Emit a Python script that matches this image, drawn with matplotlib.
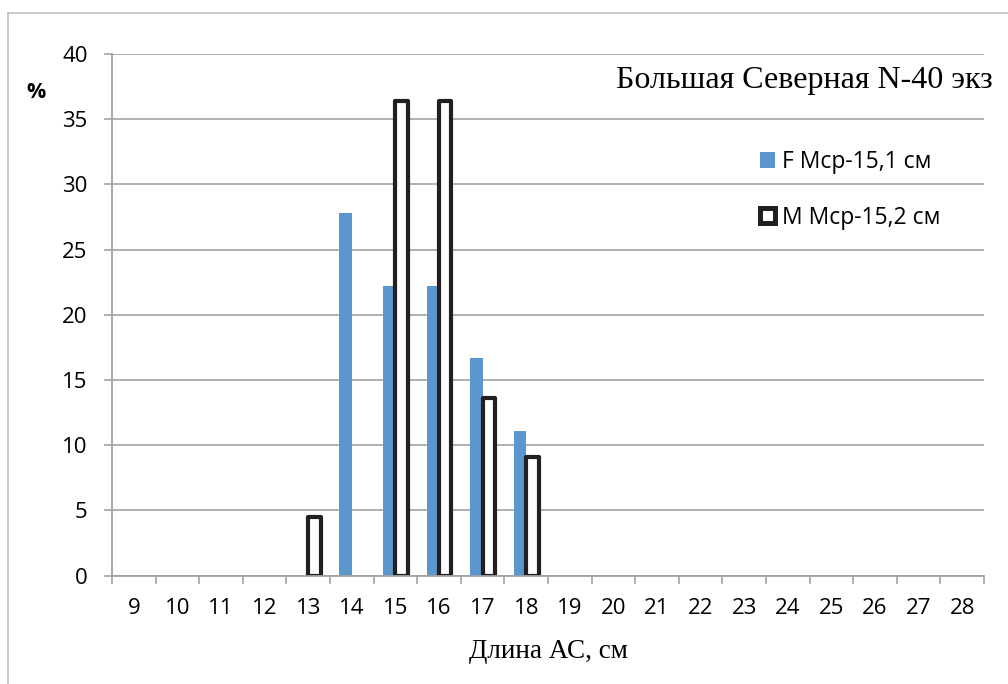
import matplotlib
matplotlib.use("Agg")
import matplotlib.pyplot as plt
from matplotlib.patches import Patch
from matplotlib.lines import Line2D
import numpy as np

# Length classes (cm) and share of specimens (%) by sex
lengths = [9, 10, 11, 12, 13, 14, 15, 16, 17, 18, 19, 20, 21, 22, 23, 24, 25, 26, 27, 28]
female_pct = [0, 0, 0, 0, 0, 27.8, 22.2, 22.2, 16.7, 11.1, 0, 0, 0, 0, 0, 0, 0, 0, 0, 0]
male_pct = [0, 0, 0, 0, 4.5, 0, 36.4, 36.4, 13.6, 9.1, 0, 0, 0, 0, 0, 0, 0, 0, 0, 0]
female_label = "F Мср-15,1 см"
male_label = "M Мср-15,2 см"
title_text = "Большая Северная N-40 экз"
x_label = "Длина АС, см"
y_label = "%"
y_ticks = [0, 5, 10, 15, 20, 25, 30, 35, 40]

W, H = 1008, 684
fig = plt.figure(figsize=(W / 100, H / 100), dpi=100)
ax = fig.add_axes([112 / W, 1 - 575.5 / H, (984 - 112) / W, (575.5 - 54) / H])

grid_col = "#a3a3a3"
blue = "#5b97cc"
dark = "#231f20"

x = np.arange(len(lengths))
bw = 0.285
nz_f = [i for i, v in enumerate(female_pct) if v > 0]
nz_m = [i for i, v in enumerate(male_pct) if v > 0]
ax.bar(x[nz_f] - bw / 2, [female_pct[i] for i in nz_f], width=bw,
       color=blue, zorder=3, linewidth=0)
ax.bar(x[nz_m] + bw / 2, [male_pct[i] for i in nz_m], width=bw,
       facecolor="white", edgecolor=dark, linewidth=3.0, zorder=4,
       joinstyle="round")

ax.set_xlim(-0.5, len(lengths) - 0.5)
ax.set_ylim(0, 40)
ax.set_yticks(y_ticks)
ax.yaxis.grid(True, color=grid_col, linewidth=1.2, zorder=0)
ax.set_axisbelow(True)

ax.set_xticks(x)
ax.set_xticklabels([str(v) for v in lengths])
ax.set_xticks(np.arange(-0.5, len(lengths)), minor=True)
ax.tick_params(axis="x", which="major", length=0, pad=16,
               labelsize=16, labelfontfamily="Open Sans")
ax.tick_params(axis="x", which="minor", length=6, width=1.2,
               color=grid_col, direction="out")
ax.tick_params(axis="y", length=6, width=1.2, color=grid_col,
               direction="out", pad=11.5, labelsize=16,
               labelfontfamily="Open Sans")

for s in ("top", "right"):
    ax.spines[s].set_visible(False)
for s in ("left", "bottom"):
    ax.spines[s].set_color(grid_col)
    ax.spines[s].set_linewidth(1.3)
ax.spines["bottom"].set_zorder(5)

ax.set_xlabel(x_label, fontfamily="Liberation Serif", fontsize=19.5,
              va="center")
ax.xaxis.set_label_coords((548 - 112) / 872, (575.5 - 651) / 521.5)
ax.set_ylabel(y_label, rotation=0, fontfamily="Open Sans", fontsize=15.5,
              fontweight="bold", va="center", ha="center")
ax.yaxis.set_label_coords((36 - 112) / 872, (575.5 - 93) / 521.5)

ax.text((804.5 - 112) / 872, (575.5 - 80.5) / 521.5, title_text,
        transform=ax.transAxes, ha="center", va="center",
        fontfamily="Liberation Serif", fontsize=23)

handles = [
    Patch(facecolor=blue, edgecolor="none", label=female_label),
    Patch(facecolor="white", edgecolor=dark, linewidth=3.6,
          joinstyle="round", label=male_label),
]
leg = ax.legend(handles=handles, loc="upper left",
                bbox_to_anchor=((760 - 112) / 872, (575.5 - 150) / 521.5),
                frameon=False, borderpad=0, borderaxespad=0,
                handlelength=0.66, handleheight=0.66, handletextpad=0.3,
                labelspacing=1.38, prop={"family": "Open Sans", "size": 16.5})

# chart area border
fig.add_artist(Line2D([8 / W, 8 / W], [0, 1 - 13 / H], color="#c0c0c0",
                      linewidth=1.2, transform=fig.transFigure))
fig.add_artist(Line2D([8 / W, 1], [1 - 13 / H, 1 - 13 / H], color="#c0c0c0",
                      linewidth=1.2, transform=fig.transFigure))

fig.savefig("out.png", dpi=100)
